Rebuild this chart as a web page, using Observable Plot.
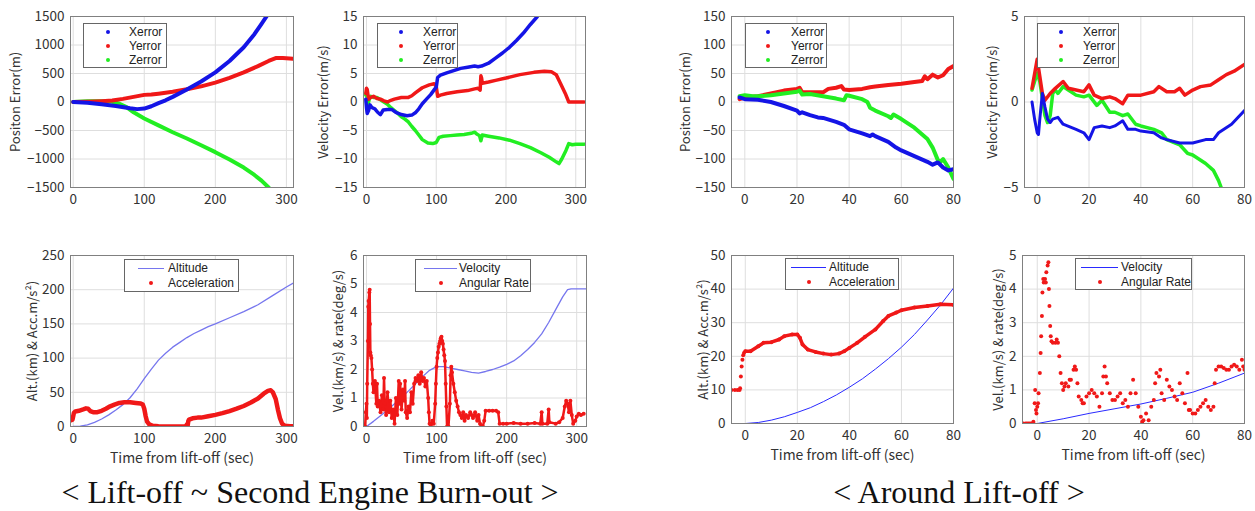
<!DOCTYPE html>
<html><head><meta charset="utf-8">
<script src="https://cdn.jsdelivr.net/npm/d3@7"></script>
<script src="https://cdn.jsdelivr.net/npm/@observablehq/plot@0.6"></script>
<style>
body{margin:0;background:#fff;width:1255px;height:511px;position:relative;overflow:hidden;font-family:"Noto Sans CJK JP","Noto Sans",sans-serif}
.panel{position:absolute}
.panel svg{overflow:visible}
.legend{position:absolute;border:1.5px solid #666;background:#fff;font-family:"Liberation Sans",Arial,sans-serif;font-size:12px;color:#222;box-sizing:border-box}
.legend .row{position:absolute;left:0;right:0;height:12px;line-height:12px;white-space:nowrap}
.cap{position:absolute;font-family:"Liberation Serif","Times New Roman",serif;font-size:32px;color:#111;white-space:nowrap;line-height:30px}
</style></head>
<body>
<script>
// ---------- DATA ----------
// Left: Lift-off ~ Second Engine Burn-out
const posErrX_L = [[0,0],[20,-15],[40,-40],[60,-70],[80,-110],[90,-125],[100,-115],[110,-75],[120,-20],[130,30],[140,90],[160,220],[180,360],[200,520],[220,720],[240,960],[255,1190],[265,1370],[272,1500],[274,1540]];
const posErrY_L = [[0,0],[20,5],[40,15],[55,25],[70,55],[85,90],[100,125],[110,130],[120,145],[140,180],[160,225],[180,275],[200,340],[220,425],[240,520],[260,630],[275,720],[285,770],[295,770],[310,760]];
const posErrZ_L = [[0,0],[20,15],[40,15],[55,5],[65,-30],[75,-90],[85,-180],[100,-290],[120,-410],[140,-530],[160,-640],[180,-760],[200,-880],[220,-1010],[240,-1150],[255,-1280],[265,-1380],[275,-1500],[277,-1530]];

const velErrX_L = [[-1,0.5],[0,-1],[1,-2],[3,-1.5],[5,-0.5],[8,-1],[12,-1.2],[16,-1.8],[20,-2.2],[24,-1.4],[30,-1.3],[36,-1.3],[42,-1.8],[50,-2.2],[58,-2.4],[65,-2.3],[70,-1.9],[75,-1.2],[80,-0.3],[86,0.5],[92,1.3],[98,2.3],[100,2.6],[102,4.3],[106,4.7],[115,5.1],[125,5.5],[135,5.9],[145,6.1],[155,6.3],[160,6.2],[165,6.3],[175,6.8],[185,7.7],[195,8.6],[205,9.6],[215,10.8],[225,12.1],[235,13.6],[245,15],[247,15.3]];
const velErrY_L = [[-1,1.5],[0,2.4],[1,2.2],[3,0.5],[6,0.8],[10,1],[15,0.6],[20,0.5],[25,0.2],[30,0],[35,0.3],[40,0.5],[50,0.8],[60,0.8],[65,1.1],[70,1.6],[80,2.5],[90,3],[97,3.2],[100,2.7],[102,1],[106,1.2],[115,1.5],[130,1.8],[145,2],[155,2.3],[160,2.4],[163,2.1],[164,4.6],[165,4.2],[166,3.3],[175,3.5],[185,3.8],[200,4.2],[220,4.8],[240,5.2],[255,5.4],[265,5.3],[272,4.8],[278,3.3],[285,1.5],[290,0],[300,0],[312,0]];
const velErrZ_L = [[-1,1.2],[0,1.7],[1,0.5],[2,-0.5],[4,0.5],[6,1],[10,0.8],[15,0.8],[20,0.4],[25,0],[30,-0.4],[35,-1],[40,-1.5],[45,-2],[50,-2.6],[55,-3],[60,-3.5],[65,-4.3],[70,-5],[75,-5.8],[80,-6.6],[88,-7.2],[95,-7.3],[100,-7.1],[104,-6.2],[110,-6],[120,-5.9],[130,-5.8],[140,-5.7],[150,-5.5],[155,-5.3],[158,-5.6],[162,-5.9],[164,-6.8],[166,-5.8],[175,-6],[190,-6.3],[205,-6.7],[220,-7.3],[235,-8],[250,-8.9],[262,-9.7],[272,-10.5],[276,-10.8],[280,-10],[286,-8.5],[290,-7.3],[295,-7.5],[300,-7.4],[312,-7.4]];

const altitude_L = [[0,0],[10,0.5],[20,2.5],[30,6],[40,11],[50,17],[60,24],[70,32],[80,42],[90,55],[100,70],[110,84],[120,97],[130,107],[140,116],[150,123],[160,130],[170,136],[180,141],[190,146],[200,150],[220,159],[240,168],[260,178],[280,191],[300,204],[310,210]];
const accel_L = [[-3,9],[-1,10],[0,15],[1,20],[3,22],[8,23],[14,25],[18,26.5],[21,26],[24,22.5],[28,21],[34,21],[40,23],[46,26],[52,29.5],[58,32],[65,34.5],[72,35.5],[80,35.5],[88,34.5],[95,33.5],[98,32],[100,26],[102,15],[104,7],[107,3],[112,1],[120,0.3],[140,0],[158,0],[160,3],[161,1],[162,8],[163,10],[168,12],[175,13],[180,13],[190,15],[200,17],[210,19.5],[220,22.5],[230,26],[240,30],[250,35],[260,41],[268,48],[274,52],[278,53],[281,50],[285,40],[288,25],[291,12],[294,4],[298,1],[305,0.5],[312,0.5]];

const velocity_L = [[0,0],[10,0.18],[20,0.38],[30,0.58],[40,0.8],[50,1.02],[60,1.25],[70,1.5],[80,1.75],[90,1.97],[100,2.1],[110,2.1],[120,2.05],[130,2.0],[140,1.95],[150,1.9],[160,1.87],[170,1.93],[180,2.0],[190,2.08],[200,2.18],[210,2.3],[220,2.48],[230,2.7],[240,2.95],[250,3.25],[260,3.65],[270,4.1],[280,4.55],[287,4.8],[292,4.83],[314,4.83]];
const angRate_L = [[-3,0],[-2,0],[-1,0.5],[0,0.8],[0.5,0.3],[1,1.5],[2,3.0],[2.5,4.2],[3,4.4],[4,4.7],[4.5,4.8],[5,3.6],[5.5,2.6],[6,2.5],[7,2.4],[8,2.0],[9,1.5],[10,1.2],[12,1.6],[14,0.8],[15,1.5],[16,0.7],[18,0.9],[20,0.5],[22,1.1],[24,0.6],[25,1.7],[26,0.8],[28,0.4],[30,1.2],[32,0.5],[34,0.9],[36,0.3],[38,0.6],[40,0.1],[42,1.0],[44,0.4],[46,1.6],[47,0.8],[48,1.5],[50,0.6],[52,1.3],[54,0.9],[55,1.6],[56,0.5],[58,0.3],[60,0.7],[62,0.5],[64,1.2],[66,0.8],[68,1.5],[70,1.7],[72,1.6],[74,1.8],[76,1.5],[78,1.9],[80,1.6],[82,1.7],[84,1.4],[86,1.6],[88,1.0],[89,0.5],[90,0.1],[92,0.0],[94,0.2],[96,0.1],[98,0.8],[99,1.5],[100,2.1],[101,2.4],[102,2.6],[103,2.8],[104,2.9],[105,3.0],[106,3.1],[107,3.15],[108,3.0],[109,2.9],[110,2.7],[111,2.5],[112,2.3],[113,1.5],[114,0.7],[115,0.0],[117,0.0],[119,0.8],[120,1.8],[121,2.1],[122,1.9],[124,1.5],[126,1.2],[128,0.9],[130,0.7],[132,0.5],[134,0.4],[136,0.3],[138,0.5],[140,0.2],[142,0.4],[145,0.3],[148,0.5],[150,0.4],[152,0.3],[155,0.5],[158,0.2],[160,0.4],[162,0.1],[164,0.0],[166,0.0],[168,0.2],[170,0.55],[175,0.55],[180,0.55],[185,0.55],[188,0.5],[190,0.1],[195,0.1],[200,0.1],[210,0.12],[220,0.1],[230,0.1],[240,0.12],[248,0.1],[250,0.5],[251,0.1],[258,0.1],[260,0.6],[261,0.15],[270,0.1],[275,0.15],[280,0.3],[283,0.7],[285,0.9],[287,0.8],[289,0.5],[291,0.9],[293,0.4],[295,0.1],[298,0.2],[300,0.35],[303,0.45],[306,0.4],[310,0.45]];

// Right: Around Lift-off
const posErrX_R = [[-2,8],[0,5],[5,4],[10,0],[15,-7],[20,-15],[21,-20],[22,-18],[25,-23],[28,-27],[30,-28],[35,-35],[38,-40],[40,-48],[45,-55],[48,-60],[49,-57],[50,-60],[55,-70],[58,-80],[60,-85],[65,-95],[70,-105],[72,-110],[74,-106],[76,-115],[78,-120],[80,-118]];
const posErrY_R = [[-2,5],[0,8],[5,10],[10,15],[15,20],[20,23],[21,25],[22,17],[25,17],[30,17],[32,23],[35,25],[37,28],[38,22],[40,21],[45,23],[48,26],[50,27],[55,30],[60,32],[65,35],[68,37],[69,45],[70,40],[72,48],[74,43],[76,47],[78,58],[80,63]];
const posErrZ_R = [[-2,10],[0,12],[3,10],[5,10],[10,12],[15,15],[20,18],[21,20],[22,13],[25,14],[30,10],[35,6],[38,3],[39,12],[40,11],[45,5],[47,0],[48,-10],[50,-15],[55,-25],[56,-28],[57,-22],[60,-30],[65,-45],[70,-65],[72,-80],[74,-102],[75,-105],[76,-100],[78,-115],[80,-135]];

const velErrX_R = [[-2,0],[-1,-1],[0,-1.8],[0.5,-1.9],[1,-1],[2,0.5],[3,-0.3],[4,-1],[5,-1.2],[6,-1.0],[8,-0.9],[10,-1.3],[15,-1.6],[18,-1.8],[20,-2.2],[22,-1.5],[25,-1.4],[28,-1.5],[30,-1.4],[33,-1.1],[35,-1.6],[38,-1.6],[40,-1.7],[45,-1.8],[48,-2.1],[50,-2.2],[55,-2.4],[60,-2.4],[65,-2.2],[68,-2.2],[70,-1.8],[75,-1.3],[80,-0.5]];
const velErrY_R = [[-2,0.8],[0,2.5],[1,1.5],[2,0.5],[3,0.1],[5,0.5],[7,0.8],[10,1.2],[12,0.8],[15,0.7],[18,0.6],[20,1.0],[22,0.4],[25,0.2],[28,0.3],[30,0.2],[33,-0.1],[35,0.4],[40,0.4],[45,0.6],[47,0.9],[50,0.6],[53,0.6],[55,0.8],[57,0.4],[60,0.7],[63,0.9],[67,1.0],[70,1.3],[73,1.6],[76,1.8],[80,2.2]];
const velErrZ_R = [[-2,0.7],[0,1.7],[1,1.2],[2,0.2],[3,-0.8],[4,-1.2],[5,-0.8],[6,0.5],[7,0.7],[8,0.5],[10,0.9],[12,0.7],[15,0.4],[18,0.3],[20,0.4],[23,-0.2],[25,0.1],[28,-0.6],[30,-0.6],[33,-0.8],[35,-0.7],[38,-1.3],[40,-1.4],[45,-1.6],[48,-1.8],[50,-2.2],[55,-2.5],[58,-3.0],[60,-3.1],[65,-3.6],[68,-4.0],[70,-4.6],[71,-5.0]];

const altitude_R = [[-1,0],[0,0],[5,0.3],[10,1],[15,2],[20,3.3],[25,4.7],[30,6.5],[35,8.5],[40,10.8],[45,13.3],[50,16.2],[55,19.3],[60,22.7],[65,26.5],[70,30.8],[75,35.3],[80,40.3]];
const accel_R = [[-5.3,10],[-4,10],[-3,10],[-2.2,10],[-2,10.5],[-1.7,14],[-1.4,17],[-1.1,19],[-0.8,20.3],[-0.5,21],[0,21.5],[2,21.5],[5,23],[7,24],[10,24.2],[13,25],[15,26],[18,26.5],[20,26.5],[21,25.5],[22,23.5],[24,22],[27,21.3],[30,20.8],[33,20.5],[36,20.8],[38,21.5],[40,22.5],[43,24],[46,25.8],[50,28],[53,30.5],[55,32],[58,33],[60,33.7],[65,34.5],[70,35],[75,35.5],[80,35.3]];

const velocity_R = [[0,0],[10,0.14],[20,0.3],[30,0.44],[40,0.58],[50,0.75],[60,0.93],[70,1.2],[80,1.5]];
const angRate_R = [[-5.3,0],[-4.5,0],[-4,0],[-3.5,0],[-3,0],[-2.5,0],[-2,0],[-1.5,0.05],[-1,0.6],[-0.8,1.0],[-0.5,0.4],[-0.3,0.3],[0,0.5],[0.3,0.6],[0.5,0.9],[1,1.5],[1.3,2.1],[1.5,2.6],[1.8,3.2],[2,3.9],[2.3,4.3],[2.5,4.2],[3,4.3],[3.3,4.2],[3.5,4.5],[4,4.7],[4.3,4.8],[4.5,4.0],[4.7,3.5],[5,2.9],[5.2,2.6],[5.5,2.45],[6,2.4],[7,2.4],[7.5,2.5],[8,2.4],[8.5,2.0],[9,1.5],[9.5,1.2],[10,1.0],[10.5,1.1],[11,1.2],[12,1.1],[12.5,1.3],[13,1.3],[14,1.6],[14.5,1.7],[15,1.6],[15.5,1.2],[16,0.8],[17,0.7],[17.5,0.6],[18,0.6],[19,0.8],[20,0.9],[21,1.0],[22,0.9],[23,0.8],[24,0.5],[25,0.9],[25.5,1.4],[26,1.7],[26.5,1.4],[27,1.2],[28,0.9],[29,0.7],[30,0.7],[31,0.8],[32,0.9],[33,0.6],[34,0.7],[35,0.5],[36,0.9],[37,1.3],[38,0.9],[39,0.5],[40,0.2],[40.5,0.05],[41,0.1],[42,0.3],[43,0.1],[44,0.5],[45,0.7],[45.5,1.2],[46,1.5],[47,1.4],[47.5,1.6],[48,0.9],[49,0.7],[50,1.3],[51,1.1],[52,1.0],[53,0.8],[54,0.7],[55,1.2],[56,0.9],[57,0.6],[58,1.5],[58.5,0.4],[59,0.4],[60,0.3],[61,0.3],[62,0.4],[63,0.5],[64,0.6],[65,0.7],[66,0.5],[67,0.4],[68,0.5],[68.5,1.2],[69,1.6],[70,1.7],[71,1.7],[72,1.65],[73,1.6],[74,1.6],[75,1.7],[76,1.75],[77,1.7],[78,1.6],[79,1.9],[79.5,1.7],[80,1.6]];

// Ticks
const xTicksL = [0,100,200,300];
const xTicksR = [0,20,40,60,80];
const yTicksPos_L = [-1500,-1000,-500,0,500,1000,1500];
const yTicksVel_L = [-15,-10,-5,0,5,10,15];
const yTicksAlt_L = [0,50,100,150,200,250];
const yTicksRate_L = [0,1,2,3,4,5,6];
const yTicksPos_R = [-150,-100,-50,0,50,100,150];
const yTicksVel_R = [-5,0,5];
const yTicksAlt_R = [0,10,20,30,40,50];
const yTicksRate_R = [0,1,2,3,4,5];

// Labels
const xLabel = "Time from lift-off (sec)";
const labelPos = "Positon Error(m)";
const labelVel = "Velocity Error(m/s)";
const labelAlt = "Alt.(km) & Acc.m/s²)";
const labelRate = "Vel.(km/s) & rate(deg/s)";
const errSeries = ["Xerror","Yerror","Zerror"];
const captions = ["< Lift-off ~ Second Engine Burn-out >", "< Around Lift-off >"];

// ---------- STYLE ----------
const FONT = '"Noto Sans CJK JP","Noto Sans",sans-serif';
const C = {x:"#1414e6", y:"#f01818", z:"#22ee22", lineL:"#7676ee", lineR:"#2a2aff"};
const fmt = d => (d < 0 ? "\u2212" + Math.abs(d) : String(d));

function thick(data, color, w=4){
  return Plot.line(data, {x:d=>d[0], y:d=>d[1], stroke:color, strokeWidth:w, strokeLinejoin:"round", strokeLinecap:"round", clip:true});
}
function thin(data, color, w=1.2){
  return Plot.line(data, {x:d=>d[0], y:d=>d[1], stroke:color, strokeWidth:w, clip:true});
}
function dots(data, color, r=2){
  return Plot.dot(data, {x:d=>d[0], y:d=>d[1], fill:color, r, stroke:null, clip:true});
}

function panel(cfg){
  const {L,T,R,B} = cfg.frame;
  const ML=75, MR=12, MT=10, MB=50;
  const width = R-L+ML+MR, height = B-T+MT+MB;
  const fig = Plot.plot({
    width, height, marginLeft:ML, marginRight:MR, marginTop:MT, marginBottom:MB,
    style:{fontFamily:FONT, fontSize:"13px", color:"#333", background:"transparent"},
    x:{domain:cfg.xDomain},
    y:{domain:cfg.yDomain},
    marks:[
      Plot.gridX(cfg.xTicks,{stroke:"#dedede", strokeOpacity:1}),
      Plot.gridY(cfg.yTicks,{stroke:"#dedede", strokeOpacity:1}),
      ...cfg.marks,
      Plot.frame({stroke:"#808080"}),
      Plot.axisX(cfg.xTicks,{tickSize:0, tickPadding:7, label:null, fontSize:13.5, fill:"#333", tickFormat:fmt}),
      Plot.axisY(cfg.yTicks,{tickSize:0, tickPadding:6, label:null, fontSize:13.5, fill:"#333", tickFormat:fmt}),
      Plot.text([cfg.ylabel],{frameAnchor:"left", dx:-cfg.yOff, rotate:-90, textAnchor:"middle", lineAnchor:"middle", fontSize:13, fill:"#333"}),
      cfg.xlabel ? Plot.text([cfg.xlabel],{frameAnchor:"bottom", dy:32, textAnchor:"middle", lineAnchor:"middle", fontSize:14, fill:"#333"}) : null
    ]
  });
  const div = document.createElement("div");
  div.className = "panel";
  div.style.left = (L-ML)+"px"; div.style.top = (T-MT)+"px";
  div.style.width = width+"px"; div.style.height = height+"px";
  div.appendChild(fig);
  document.body.appendChild(div);
}

function legendDots(box, names, colors, markX, textX, rows){
  const el = document.createElement("div");
  el.className="legend";
  Object.assign(el.style,{left:box[0]+"px",top:box[1]+"px",width:(box[2]-box[0])+"px",height:(box[3]-box[1])+"px"});
  names.forEach((n,i)=>{
    const r=document.createElement("div"); r.className="row";
    r.style.top=(rows[i]-box[1]-7)+"px";
    r.innerHTML=`<span style="position:absolute;left:${markX-box[0]-2}px;top:4px;width:4px;height:4px;border-radius:50%;background:${colors[i]}"></span><span style="position:absolute;left:${textX-box[0]}px">${n}</span>`;
    el.appendChild(r);
  });
  document.body.appendChild(el);
}
function legendLine(box, names, lineColor, dotColor, lx0, lx1, textX, rows){
  const el = document.createElement("div");
  el.className="legend";
  Object.assign(el.style,{left:box[0]+"px",top:box[1]+"px",width:(box[2]-box[0])+"px",height:(box[3]-box[1])+"px"});
  const r1=document.createElement("div"); r1.className="row"; r1.style.top=(rows[0]-box[1]-7)+"px";
  r1.innerHTML=`<span style="position:absolute;left:${lx0-box[0]}px;top:6px;width:${lx1-lx0}px;height:1.3px;background:${lineColor}"></span><span style="position:absolute;left:${textX-box[0]}px">${names[0]}</span>`;
  const r2=document.createElement("div"); r2.className="row"; r2.style.top=(rows[1]-box[1]-7)+"px";
  r2.innerHTML=`<span style="position:absolute;left:${(lx0+lx1)/2-box[0]-2}px;top:4px;width:4px;height:4px;border-radius:50%;background:${dotColor}"></span><span style="position:absolute;left:${textX-box[0]}px">${names[1]}</span>`;
  el.appendChild(r1); el.appendChild(r2);
  document.body.appendChild(el);
}

// ---------- PANELS ----------
panel({frame:{L:70,T:16,R:293,B:187}, xDomain:[-3.8,310], yDomain:[-1500,1500], xTicks:xTicksL, yTicks:yTicksPos_L,
  ylabel:labelPos, yOff:55, marks:[thick(posErrZ_L,C.z), thick(posErrY_L,C.y), thick(posErrX_L,C.x)]});
panel({frame:{L:363,T:16,R:585,B:187}, xDomain:[-4.3,314], yDomain:[-15,15], xTicks:xTicksL, yTicks:yTicksVel_L,
  ylabel:labelVel, yOff:40, marks:[thick(velErrZ_L,C.z,3.5), thick(velErrY_L,C.y,3.5), thick(velErrX_L,C.x,3.5)]});
panel({frame:{L:70,T:255,R:293,B:426}, xDomain:[-3.8,310], yDomain:[0,250], xTicks:xTicksL, yTicks:yTicksAlt_L,
  ylabel:labelAlt, yOff:38, xlabel:xLabel, marks:[thin(altitude_L,C.lineL,1.3), thick(accel_L,C.y,4.5)]});
panel({frame:{L:363,T:255,R:586,B:426}, xDomain:[-4.3,314], yDomain:[0,6], xTicks:xTicksL, yTicks:yTicksRate_L,
  ylabel:labelRate, yOff:25, xlabel:xLabel, marks:[thin(velocity_L,C.lineL,1.3), thin(angRate_L,C.y,2.5), dots(angRate_L,C.y,2)]});

panel({frame:{L:731,T:16,R:953,B:187}, xDomain:[-5.1,80], yDomain:[-150,150], xTicks:xTicksR, yTicks:yTicksPos_R,
  ylabel:labelPos, yOff:46, marks:[thick(posErrY_R,C.y), thick(posErrZ_R,C.z), thick(posErrX_R,C.x)]});
panel({frame:{L:1024,T:16,R:1244,B:187}, xDomain:[-4.9,80], yDomain:[-5,5], xTicks:xTicksR, yTicks:yTicksVel_R,
  ylabel:labelVel, yOff:32, marks:[thick(velErrZ_R,C.z,3.5), thick(velErrY_R,C.y,3.5), thick(velErrX_R,C.x,3)]});
panel({frame:{L:731,T:255,R:953,B:423}, xDomain:[-5.3,80], yDomain:[0,50], xTicks:xTicksR, yTicks:yTicksAlt_R,
  ylabel:labelAlt, yOff:28, xlabel:xLabel, marks:[thin(altitude_R,C.lineR,1), thick(accel_R.slice(10),C.y,3.5), dots(accel_R,C.y,2)]});
panel({frame:{L:1022,T:255,R:1244,B:423}, xDomain:[-5.7,80], yDomain:[0,5], xTicks:xTicksR, yTicks:yTicksRate_R,
  ylabel:labelRate, yOff:24, xlabel:xLabel, marks:[thin(velocity_R,C.lineR,1), dots(angRate_R,C.y,2)]});

// ---------- LEGENDS ----------
const errColors=[C.x,C.y,C.z];
legendDots([83,23,167,68], errSeries, errColors, 107, 128, [32,46,60]);
legendDots([377,23,458,68], errSeries, errColors, 400, 422, [32,46,60]);
legendDots([745,23,827,68], errSeries, errColors, 767, 790, [32,46,60]);
legendDots([1037,23,1119,68], errSeries, errColors, 1060, 1082, [32,46,60]);
legendLine([124,259,239,292], ["Altitude","Acceleration"], C.lineL, C.y, 137, 163, 167, [268,283]);
legendLine([415,259,531,292], ["Velocity","Angular Rate"], C.lineL, C.y, 423, 456, 458, [268,283]);
legendLine([785,258,899,290], ["Altitude","Acceleration"], C.lineR, C.y, 790, 825, 828, [267,282]);
legendLine([1075,258,1192,290], ["Velocity","Angular Rate"], C.lineR, C.y, 1080, 1117, 1120, [267,282]);

// ---------- CAPTIONS ----------
[[captions[0],310],[captions[1],959]].forEach(([t,cx])=>{
  const d=document.createElement("div"); d.className="cap"; d.textContent=t;
  d.style.left=cx+"px"; d.style.top="477px"; d.style.transform="translateX(-50%)";
  document.body.appendChild(d);
});
</script>
</body></html>
